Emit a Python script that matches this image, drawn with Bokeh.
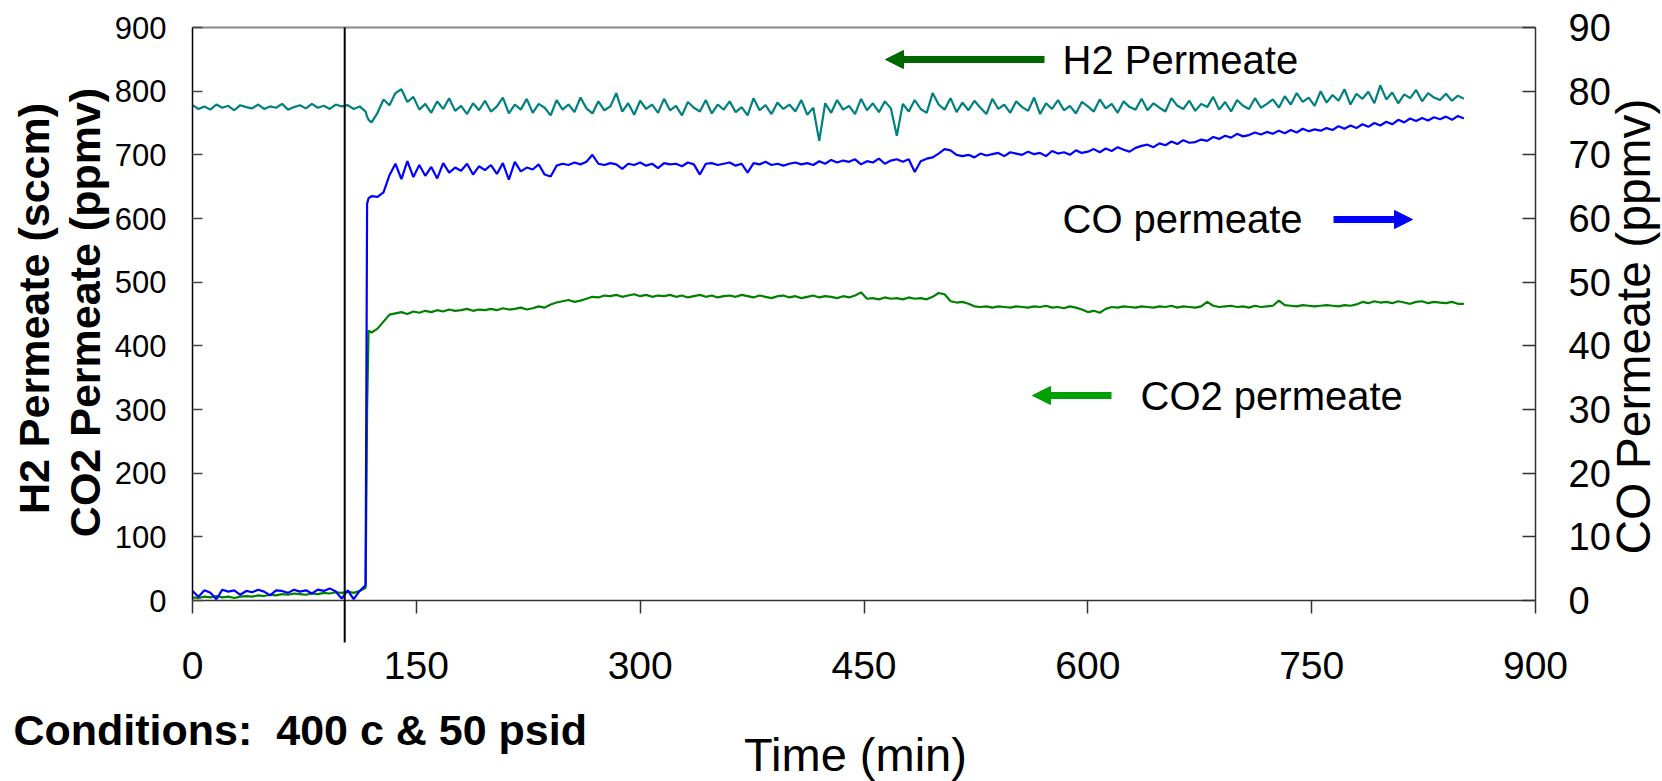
import math
from bokeh.plotting import figure
from bokeh.models import Range1d, LinearAxis, FixedTicker, Label, Arrow, NormalHead, ColumnDataSource
from bokeh.embed import file_html
from bokeh.resources import INLINE

# ---------------- data ----------------
time_pre = list(range(0, 117, 4))          # 0 .. 116 min
time_jump = [117, 118]
time_post = list(range(120, 853, 4))       # 120 .. 852 min
time_min = time_pre + time_jump + time_post

h2_pre = [778, 772, 776, 771, 779, 774, 777, 770, 778, 775,
          773, 779, 772, 776, 774, 780, 771, 775, 778, 773,
          780, 774, 777, 772, 779, 776, 778, 772, 776, 768]
h2_jump = [760, 755]
h2_post = [751, 766, 787, 778, 797, 803, 783, 791, 771, 780,
           766, 784, 772, 789, 769, 777, 764, 781, 770, 785,
           768, 776, 790, 765, 779, 771, 788, 766, 780, 774,
           762, 786, 771, 779, 767, 790, 773, 765, 784, 770,
           776, 797, 768, 781, 763, 785, 772, 779, 766, 788,
           770, 777, 762, 783, 774, 768, 786, 765, 779, 771,
           784, 767, 775, 762, 789, 770, 778, 764, 782, 772,
           779, 768, 786, 763, 774, 722, 781, 766, 786, 771,
           777, 764, 788, 770, 781, 767, 784, 773, 730, 780,
           768, 786, 772, 766, 797, 779, 771, 789, 767, 782,
           770, 785, 774, 764, 788, 772, 779, 766, 784, 775,
           769, 790, 764, 781, 772, 786, 770, 777, 765, 783,
           776, 768, 787, 773, 780, 766, 784, 775, 771, 788,
           770, 781, 774, 768, 789, 777, 772, 785, 769, 780,
           775, 791, 771, 783, 768, 786, 777, 772, 789, 774,
           780, 787, 774, 792, 779, 797, 783, 790, 777, 800,
           782, 794, 785, 803, 779, 796, 788, 799, 781, 809,
           787, 798, 781, 795, 789, 802, 784, 797, 790, 786,
           796, 785, 793, 788]
h2_sccm = h2_pre + h2_jump + h2_post

co2_pre = [5, 4, 6, 5, 7, 5, 6, 4, 6, 7,
           6, 8, 7, 9, 8, 10, 9, 11, 10, 9,
           11, 10, 12, 11, 13, 12, 14, 12, 15, 20]
co2_jump = [300, 424]
co2_post = [421, 427, 438, 449, 451, 453, 450, 454, 452, 455,
            453, 456, 454, 457, 455, 456, 458, 455, 457, 456,
            458, 456, 459, 457, 458, 460, 457, 459, 462, 460,
            465, 468, 470, 472, 469, 471, 474, 477, 476, 479,
            478, 480, 477, 479, 481, 478, 480, 477, 479, 478,
            480, 477, 479, 476, 478, 480, 477, 479, 476, 478,
            479, 477, 480, 478, 476, 479, 477, 475, 478, 479,
            476, 478, 475, 477, 479, 476, 478, 477, 475, 478,
            476, 479, 484, 474, 475, 473, 476, 474, 475, 473,
            476, 474, 475, 473, 477, 483, 481, 470, 468, 469,
            466, 462, 461, 462, 460, 462, 461, 460, 462, 461,
            460, 462, 461, 463, 460, 461, 459, 462, 460, 457,
            453, 455, 452, 458, 461, 460, 462, 461, 460, 462,
            461, 460, 462, 461, 463, 460, 462, 461, 460, 462,
            469, 463, 461, 462, 463, 461, 462, 460, 463, 461,
            462, 463, 471, 464, 463, 462, 464, 463, 462, 463,
            464, 463, 462, 464, 463, 465, 469, 467, 470, 468,
            469, 467, 470, 468, 466, 469, 470, 467, 469, 468,
            467, 469, 466, 466]
co2_ppmv = co2_pre + co2_jump + co2_post

co_pre = [1.5, 0.6, 1.6, 1.2, 0.2, 1.7, 1.4, 1.6, 0.9, 1.5,
          1.3, 1.7, 1.4, 0.8, 1.6, 1.5, 1.2, 1.7, 1.4, 1.6,
          1.1, 1.7, 1.5, 1.9, 1.4, 0.3, 1.6, 0.2, 1.5, 2.4]
co_jump = [62.3, 63.2]
co_post = [63.5, 63.4, 64.1, 66.8, 68.6, 66.2, 69.0, 66.5, 68.4, 66.7,
           68.1, 66.3, 68.7, 67.2, 68.0, 67.5, 68.6, 66.9, 68.2, 67.6,
           68.4, 67.0, 68.7, 66.1, 68.9, 67.4, 68.0, 67.7, 68.5, 66.9,
           66.6, 68.3, 68.6, 68.4, 68.8, 68.5, 68.9, 70.0, 68.6, 68.4,
           68.7, 68.5, 67.8, 68.6, 68.4, 68.8, 68.3, 68.6, 67.9, 68.7,
           68.5, 68.6, 68.2, 68.8, 68.5, 66.9, 68.6, 68.7, 68.4, 68.6,
           68.8, 68.3, 68.6, 67.2, 68.7, 68.5, 68.9, 68.4, 68.6, 68.3,
           68.6, 68.8, 68.5, 68.7, 68.4, 69.0, 68.6, 69.2, 68.8, 69.1,
           68.9, 69.3, 68.5, 69.0, 68.8, 69.4, 68.6, 69.1, 69.3, 68.9,
           69.3, 67.3, 69.0, 69.4, 69.6, 70.2, 70.9, 70.7, 70.0, 69.8,
           70.0, 69.6, 70.2, 69.9, 70.1, 70.3, 69.8, 70.4, 70.2, 70.0,
           70.5, 70.1, 70.3, 69.8, 70.6, 70.2, 70.4, 70.0, 70.7, 70.3,
           70.5, 70.9, 70.4, 71.0, 70.6, 71.2, 70.8, 70.5, 71.1, 71.4,
           71.6, 71.2, 71.8, 71.5, 72.1, 71.7, 72.3, 71.9, 72.0, 72.4,
           72.2, 72.8, 72.5, 73.0, 72.7, 73.3, 72.9, 73.1, 73.5, 73.2,
           73.6, 73.3, 73.8, 73.4, 73.9, 73.5, 74.1, 73.7, 74.0, 73.8,
           74.2, 73.9, 74.5, 74.1, 74.6, 74.2, 74.8, 74.4, 75.0, 74.6,
           75.2, 74.8, 75.5, 75.1, 75.7, 75.3, 75.8, 75.4, 75.9, 75.6,
           76.0, 75.5, 76.1, 75.7]
co_ppmv = co_pre + co_jump + co_post

event_time = 102          # vertical marker (min)

x_ticks = [0, 150, 300, 450, 600, 750, 900]
y_left_ticks = [0, 100, 200, 300, 400, 500, 600, 700, 800, 900]
y_right_ticks = [0, 10, 20, 30, 40, 50, 60, 70, 80, 90]

FONT = "Liberation Sans"
TEAL = "#008080"
BLUE = "#0000FF"
GREEN = "#008000"

# ---------------- layout geometry (page pixels) ----------------
W, H = 1662, 781
PL, PR, PT, PB = 192, 1535, 27, 600      # plot area edges
XMAX, YMAX = 900, 900
xpp = XMAX / (PR - PL)
ypp = YMAX / (PB - PT)
x0, x1 = -PL * xpp, XMAX + (W - PR) * xpp
y0, y1 = -(H - PB) * ypp, YMAX + PT * ypp

def X(px):
    return x0 + px * (x1 - x0) / W

def Y(py):
    return y1 - py * (y1 - y0) / H

p = figure(width=W, height=H, output_backend="svg", toolbar_location=None,
           title=None, x_range=Range1d(x0, x1), y_range=Range1d(y0, y1),
           min_border_left=0, min_border_right=0, min_border_top=0, min_border_bottom=0)
p.extra_y_ranges = {"co": Range1d(y0 / 10, y1 / 10)}
p.grid.visible = False
p.background_fill_color = "white"
p.border_fill_color = "white"
p.outline_line_color = None

src = ColumnDataSource(dict(t=time_min, h2=h2_sccm, co2=co2_ppmv, co=co_ppmv))
p.line("t", "h2", source=src, line_color=TEAL, line_width=2.2)
p.line("t", "co2", source=src, line_color=GREEN, line_width=2.2)
p.line("t", "co", source=src, line_color=BLUE, line_width=2.2, y_range_name="co")

# axes (fixed at the data-area edges)
xa = p.xaxis[0]
xa.fixed_location = 0
xa.bounds = (0, XMAX)
xa.ticker = FixedTicker(ticks=x_ticks)
xa.major_label_text_font = FONT
xa.major_label_text_font_size = "39px"
xa.major_label_text_color = "black"
xa.major_tick_out = 13
xa.major_tick_in = 0
xa.minor_tick_out = 0
xa.minor_tick_in = 0
xa.major_label_standoff = 38
xa.axis_line_color = "#333333"
xa.axis_line_width = 1.5
xa.major_tick_line_color = "#333333"
xa.major_tick_line_width = 1.5

ya = p.yaxis[0]
ya.fixed_location = 0
ya.bounds = (0, YMAX)
ya.ticker = FixedTicker(ticks=y_left_ticks)
ya.major_label_text_font = FONT
ya.major_label_text_font_size = "31px"
ya.major_label_text_color = "black"
ya.major_tick_in = 10
ya.major_tick_out = 0
ya.minor_tick_out = 0
ya.minor_tick_in = 0
ya.major_label_standoff = 26
ya.axis_line_color = "black"
ya.axis_line_width = 1.5
ya.major_tick_line_color = "#444444"
ya.major_tick_line_width = 1.5

yr = LinearAxis(y_range_name="co", ticker=FixedTicker(ticks=y_right_ticks),
                fixed_location=XMAX, bounds=(0, 90))
yr.major_label_text_font = FONT
yr.major_label_text_font_size = "38px"
yr.major_label_text_color = "black"
yr.major_tick_in = 13
yr.major_tick_out = 0
yr.minor_tick_out = 0
yr.minor_tick_in = 0
yr.major_label_standoff = 33
yr.axis_line_color = "#333333"
yr.axis_line_width = 1.5
yr.major_tick_line_color = "#333333"
yr.major_tick_line_width = 1.5
p.add_layout(yr, "right")

top = LinearAxis(ticker=FixedTicker(ticks=[]), fixed_location=YMAX, bounds=(0, XMAX))
top.axis_line_color = "#888888"
top.axis_line_width = 2
top.major_tick_line_color = None
top.minor_tick_line_color = None
top.major_label_text_font_size = "0px"
p.add_layout(top, "above")

# vertical event line (extends below the axis)
p.add_layout(Arrow(end=None, x_start=event_time, y_start=YMAX, x_end=event_time, y_end=Y(642),
                   line_color="black", line_width=2))

# annotation arrows
p.add_layout(Arrow(end=NormalHead(size=18, fill_color="#006600", line_color="#006600"),
                   x_start=X(1044), y_start=Y(59), x_end=X(885), y_end=Y(59),
                   line_color="#006600", line_width=7))
p.add_layout(Arrow(end=NormalHead(size=18, fill_color=BLUE, line_color=BLUE),
                   x_start=X(1333), y_start=Y(219), x_end=X(1412), y_end=Y(219),
                   line_color=BLUE, line_width=7))
p.add_layout(Arrow(end=NormalHead(size=18, fill_color="#00A000", line_color="#00A000"),
                   x_start=X(1111), y_start=Y(395), x_end=X(1032), y_end=Y(395),
                   line_color="#00A000", line_width=7))

def lab(px, py, text, size, bold=False, align="left", angle=0.0):
    # (px, py): left/centre of the text, vertically at the middle of the capitals
    p.add_layout(Label(x=X(px), y=Y(py), text=text, text_font=FONT, text_font_size=size,
                       text_font_style="bold" if bold else "normal", text_color="black",
                       text_align=align, text_baseline="middle", angle=angle))

lab(1062, 59, "H2 Permeate", "40px")
lab(1062, 218, "CO permeate", "40px")
lab(1140, 395, "CO2 permeate", "40px")

lab(33, 308, "H2 Permeate (sccm)", "43px", bold=True, align="center", angle=math.pi / 2)
lab(84, 312, "CO2 Permeate (ppmv)", "43px", bold=True, align="center", angle=math.pi / 2)
lab(1633, 326, "CO Permeate (ppmv)", "48px", align="center", angle=math.pi / 2)
lab(855, 754, "Time (min)", "47px", align="center")
lab(13, 729, "Conditions:\u00a0 400 c & 50 psid", "43px", bold=True)

open("out.html", "w").write(file_html(p, INLINE))
